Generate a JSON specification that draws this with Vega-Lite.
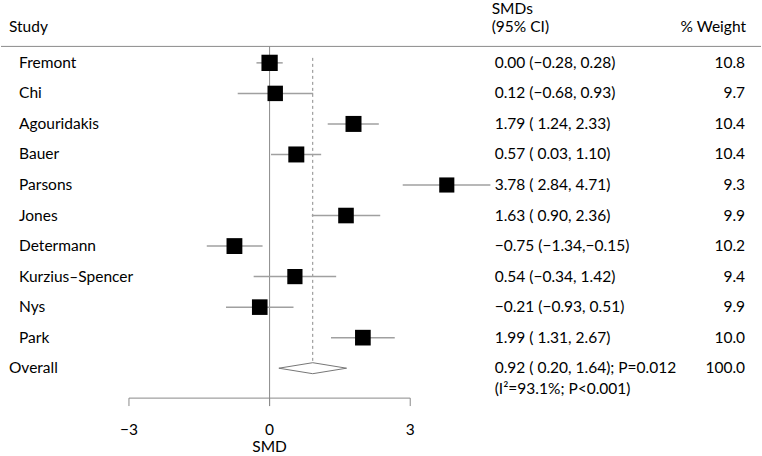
{
  "$schema": "https://vega.github.io/schema/vega-lite/v6.json",
  "width": 762,
  "height": 456,
  "padding": 0,
  "autosize": {"type": "fit", "contains": "padding"},
  "background": "white",
  "data": {"values": [{}]},
  "config": {
    "view": {"stroke": null},
    "axis": {"disable": true},
    "text": {"font": "Lato", "fontSize": 15.5, "color": "#000", "baseline": "middle"}
  },
  "datasets": {
    "studies": [
      {"study": "Fremont", "order": 1, "smd": 0.00, "lo": -0.28, "hi": 0.28, "weight": 10.8, "ci": "0.00 (−0.28, 0.28)", "w": "10.8"},
      {"study": "Chi", "order": 2, "smd": 0.12, "lo": -0.68, "hi": 0.93, "weight": 9.7, "ci": "\u20090.12 (−0.68, 0.93)", "w": "9.7"},
      {"study": "Agouridakis", "order": 3, "smd": 1.79, "lo": 1.24, "hi": 2.33, "weight": 10.4, "ci": "\u20091.79 ( 1.24, 2.33)", "w": "10.4"},
      {"study": "Bauer", "order": 4, "smd": 0.57, "lo": 0.03, "hi": 1.10, "weight": 10.4, "ci": "\u20090.57 ( 0.03, 1.10)", "w": "10.4"},
      {"study": "Parsons", "order": 5, "smd": 3.78, "lo": 2.84, "hi": 4.71, "weight": 9.3, "ci": "\u20093.78 ( 2.84, 4.71)", "w": "9.3"},
      {"study": "Jones", "order": 6, "smd": 1.63, "lo": 0.90, "hi": 2.36, "weight": 9.9, "ci": "\u20091.63 ( 0.90, 2.36)", "w": "9.9"},
      {"study": "Determann", "order": 7, "smd": -0.75, "lo": -1.34, "hi": -0.15, "weight": 10.2, "ci": "−0.75 (−1.34,−0.15)", "w": "10.2"},
      {"study": "Kurzius–Spencer", "order": 8, "smd": 0.54, "lo": -0.34, "hi": 1.42, "weight": 9.4, "ci": "\u20090.54 (−0.34, 1.42)", "w": "9.4"},
      {"study": "Nys", "order": 9, "smd": -0.21, "lo": -0.93, "hi": 0.51, "weight": 9.9, "ci": "−0.21 (−0.93, 0.51)", "w": "9.9"},
      {"study": "Park", "order": 10, "smd": 1.99, "lo": 1.31, "hi": 2.67, "weight": 10.0, "ci": "\u20091.99 ( 1.31, 2.67)", "w": "10.0"}
    ],
    "overall": [
      {"study": "Overall", "order": 11, "smd": 0.92, "lo": 0.20, "hi": 1.64, "weight": 100.0, "ci": "\u20090.92 ( 0.20, 1.64); P=0.012", "het": "(I²=93.1%; P<0.001)", "w": "100.0"}
    ],
    "ticks": [
      {"v": -3, "label": "−3"},
      {"v": 0, "label": "0"},
      {"v": 3, "label": "3"}
    ]
  },
  "layer": [
    {
      "mark": {"type": "rule", "color": "#8a8a8a", "strokeWidth": 1},
      "encoding": {
        "x": {"datum": -5.7298, "type": "quantitative", "scale": {"domain": [-5.7298, 10.483], "nice": false, "zero": false}},
        "x2": {"datum": 10.483},
        "y": {"datum": 0.461, "type": "quantitative", "scale": {"domain": [-1.0588, 13.8431], "nice": false, "zero": false, "reverse": true}}
      }
    },
    {
      "mark": {"type": "rule", "color": "#8a8a8a", "strokeWidth": 1},
      "encoding": {
        "x": {"datum": 0, "type": "quantitative"},
        "y": {"datum": 0.461, "type": "quantitative"},
        "y2": {"datum": 12.24}
      }
    },
    {
      "data": {"name": "overall"},
      "mark": {"type": "rule", "color": "#8a8a8a", "strokeWidth": 1, "strokeDash": [3, 3]},
      "encoding": {
        "x": {"field": "smd", "type": "quantitative"},
        "y": {"datum": 0.837, "type": "quantitative"},
        "y2": {"datum": 11.196}
      }
    },
    {
      "data": {"name": "studies"},
      "mark": {"type": "rule", "color": "#a0a0a0", "strokeWidth": 1.5},
      "encoding": {
        "x": {"field": "lo", "type": "quantitative"},
        "x2": {"field": "hi"},
        "y": {"field": "order", "type": "quantitative"}
      }
    },
    {
      "data": {"name": "studies"},
      "mark": {"type": "point", "shape": "square", "filled": true, "color": "black", "opacity": 1},
      "encoding": {
        "x": {"field": "smd", "type": "quantitative"},
        "y": {"field": "order", "type": "quantitative"},
        "size": {"field": "weight", "type": "quantitative", "scale": {"type": "linear", "domain": [0, 12], "range": [0, 295], "zero": true}, "legend": null}
      }
    },
    {
      "data": {"name": "overall"},
      "mark": {"type": "point", "shape": "M-1,0L0,-0.1625L1,0L0,0.1625Z", "filled": true, "fill": "white", "stroke": "#777", "strokeWidth": 1, "opacity": 1, "size": 4583},
      "encoding": {
        "x": {"field": "smd", "type": "quantitative"},
        "y": {"field": "order", "type": "quantitative"}
      }
    },
    {
      "mark": {"type": "rule", "color": "#8a8a8a", "strokeWidth": 1},
      "encoding": {
        "x": {"datum": -3, "type": "quantitative"},
        "x2": {"datum": 3},
        "y": {"datum": 11.98, "type": "quantitative"}
      }
    },
    {
      "data": {"name": "ticks"},
      "mark": {"type": "rule", "color": "#8a8a8a", "strokeWidth": 1},
      "encoding": {
        "x": {"field": "v", "type": "quantitative"},
        "y": {"datum": 11.98, "type": "quantitative"},
        "y2": {"datum": 12.24}
      }
    },
    {
      "data": {"name": "ticks"},
      "mark": {"type": "text", "align": "center"},
      "encoding": {
        "x": {"field": "v", "type": "quantitative"},
        "y": {"datum": 13.03, "type": "quantitative"},
        "text": {"field": "label"}
      }
    },
    {
      "mark": {"type": "text", "align": "center", "text": "SMD"},
      "encoding": {
        "x": {"datum": 0, "type": "quantitative"},
        "y": {"datum": 13.58, "type": "quantitative"}
      }
    },
    {
      "mark": {"type": "text", "align": "left", "text": "Study"},
      "encoding": {
        "x": {"datum": -5.5596, "type": "quantitative"},
        "y": {"datum": -0.176, "type": "quantitative"}
      }
    },
    {
      "mark": {"type": "text", "align": "left", "text": "SMDs"},
      "encoding": {
        "x": {"datum": 4.738, "type": "quantitative"},
        "y": {"datum": -0.755, "type": "quantitative"}
      }
    },
    {
      "mark": {"type": "text", "align": "left", "text": "(95% CI)"},
      "encoding": {
        "x": {"datum": 4.738, "type": "quantitative"},
        "y": {"datum": -0.176, "type": "quantitative"}
      }
    },
    {
      "mark": {"type": "text", "align": "right", "text": "% Weight"},
      "encoding": {
        "x": {"datum": 10.163, "type": "quantitative"},
        "y": {"datum": -0.176, "type": "quantitative"}
      }
    },
    {
      "data": {"name": "studies"},
      "mark": {"type": "text", "align": "left"},
      "encoding": {
        "x": {"datum": -5.3447, "type": "quantitative"},
        "y": {"field": "order", "type": "quantitative"},
        "text": {"field": "study"}
      }
    },
    {
      "data": {"name": "overall"},
      "mark": {"type": "text", "align": "left"},
      "encoding": {
        "x": {"datum": -5.5596, "type": "quantitative"},
        "y": {"field": "order", "type": "quantitative"},
        "text": {"field": "study"}
      }
    },
    {
      "data": {"name": "studies"},
      "mark": {"type": "text", "align": "left"},
      "encoding": {
        "x": {"datum": 4.802, "type": "quantitative"},
        "y": {"field": "order", "type": "quantitative"},
        "text": {"field": "ci"}
      }
    },
    {
      "data": {"name": "overall"},
      "mark": {"type": "text", "align": "left"},
      "encoding": {
        "x": {"datum": 4.802, "type": "quantitative"},
        "y": {"field": "order", "type": "quantitative"},
        "text": {"field": "ci"}
      }
    },
    {
      "data": {"name": "overall"},
      "mark": {"type": "text", "align": "left", "dy": 20.4},
      "encoding": {
        "x": {"datum": 4.802, "type": "quantitative"},
        "y": {"field": "order", "type": "quantitative"},
        "text": {"field": "het"}
      }
    },
    {
      "data": {"name": "studies"},
      "mark": {"type": "text", "align": "right"},
      "encoding": {
        "x": {"datum": 10.143, "type": "quantitative"},
        "y": {"field": "order", "type": "quantitative"},
        "text": {"field": "w"}
      }
    },
    {
      "data": {"name": "overall"},
      "mark": {"type": "text", "align": "right"},
      "encoding": {
        "x": {"datum": 10.143, "type": "quantitative"},
        "y": {"field": "order", "type": "quantitative"},
        "text": {"field": "w"}
      }
    }
  ]
}
